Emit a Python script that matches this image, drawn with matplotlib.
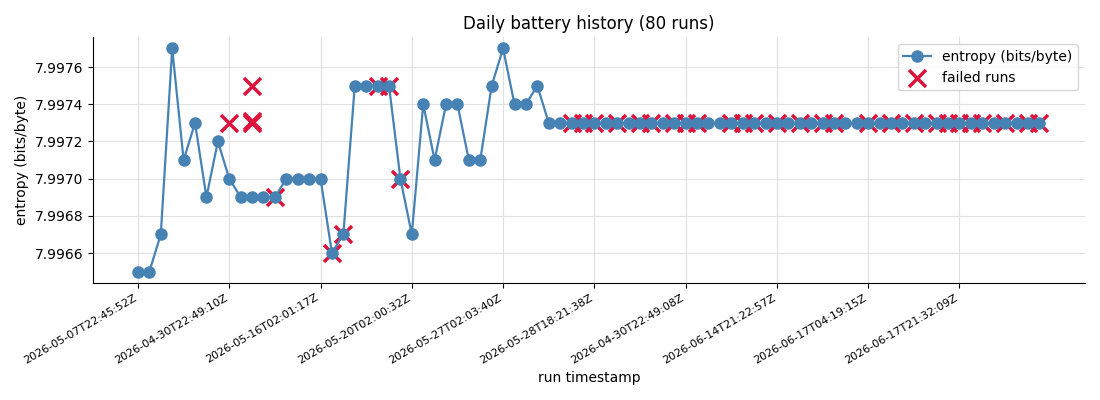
import matplotlib
matplotlib.use("Agg")
import matplotlib.pyplot as plt
import numpy as np

# entropy per run, 80 runs
entropy = [
    7.9965, 7.9965, 7.9967, 7.9977, 7.9971, 7.9973, 7.9969, 7.9972, 7.9970, 7.9969,
    7.9969, 7.9969, 7.9969, 7.9970, 7.9970, 7.9970, 7.9970, 7.9966, 7.9967, 7.9975,
    7.9975, 7.9975, 7.9975, 7.9970, 7.9967, 7.9974, 7.9971, 7.9974, 7.9974, 7.9971,
    7.9971, 7.9975, 7.9977, 7.9974, 7.9974, 7.9975, 7.9973, 7.9973, 7.9973, 7.9973,
] + [7.9973] * 40

# failed runs: (run index, entropy)
failed_idx = [8, 10, 10, 10, 12, 17, 18, 21, 22, 23,
              38, 39, 40, 42, 44, 45, 47, 48, 49,
              52, 53, 54, 56, 58, 60, 61, 64, 66, 68,
              70, 71, 72, 73, 74, 76, 78, 79]
failed_val = [7.9973, 7.9975, 7.9973, 7.99731, 7.9969, 7.9966, 7.9967,
              7.9975, 7.9975, 7.9970] + [7.9973] * 27

# every 8th run gets a timestamp label
tick_idx = [0, 8, 16, 24, 32, 40, 48, 56, 64, 72]
tick_labels = [
    "2026-05-07T22:45:52Z", "2026-04-30T22:49:10Z", "2026-05-16T02:01:17Z",
    "2026-05-20T02:00:32Z", "2026-05-27T02:03:40Z", "2026-05-28T18:21:38Z",
    "2026-04-30T22:49:08Z", "2026-06-14T21:22:57Z", "2026-06-17T04:19:15Z",
    "2026-06-17T21:32:09Z",
]

fig, ax = plt.subplots(figsize=(11, 4), dpi=100)
runs = np.arange(len(entropy))

ax.plot(runs, entropy, color="steelblue", marker="o", markersize=8,
        linewidth=1.6, label="entropy (bits/byte)", zorder=3)
ax.scatter(failed_idx, failed_val, marker="x", s=150, linewidths=2.5,
           color="crimson", label="failed runs", zorder=2)

ax.set_xticks(tick_idx)
ax.set_xticklabels(tick_labels, rotation=30, ha="right", fontsize=8)
ax.set_xlim(-3.95, 83.0)
ax.set_yticks(np.arange(7.9966, 7.99761, 0.0002))
ax.yaxis.set_major_formatter(plt.FormatStrFormatter("%.4f"))

ax.set_title("Daily battery history (80 runs)", fontsize=12)
ax.set_xlabel("run timestamp")
ax.set_ylabel("entropy (bits/byte)")
ax.grid(True, color="#e0e0e0", linewidth=0.8)
ax.set_axisbelow(True)
ax.spines["top"].set_visible(False)
ax.spines["right"].set_visible(False)
ax.legend(loc="upper right")

plt.tight_layout()
plt.savefig("out.png")
